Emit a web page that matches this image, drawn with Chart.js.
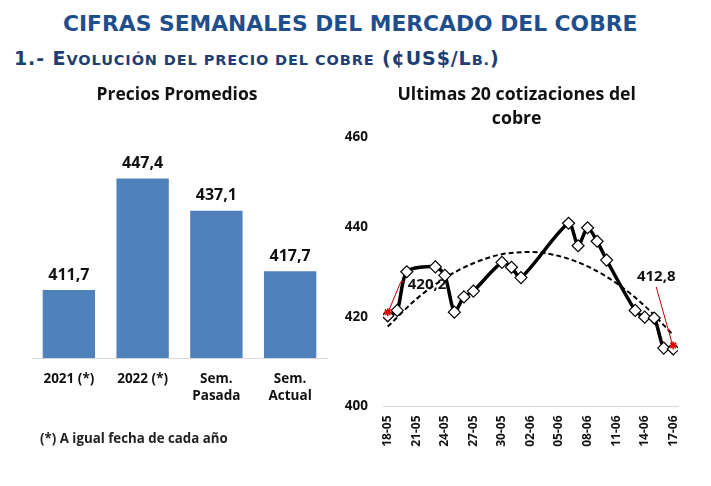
<!DOCTYPE html>
<html>
<head>
<meta charset="utf-8">
<script src="https://cdn.jsdelivr.net/npm/chart.js@4/dist/chart.umd.min.js"></script>
<style>
  body { margin: 0; width: 711px; height: 486px; background: #fff; position: relative; overflow: hidden; }
  #titulo { position: absolute; left: 63px; top: 11px; font-family: "DejaVu Sans"; font-weight: bold; font-size: 21.8px; color: #1f4e8c; white-space: nowrap; }
  #subtitulo { position: absolute; left: 14px; top: 47px; font-family: "DejaVu Sans"; font-weight: bold; font-size: 19px; letter-spacing: 0.9px; color: #1f3f73; white-space: nowrap; }
  #subtitulo .sc { font-size: 14.5px; }
  #nota { position: absolute; left: 40px; top: 429px; font-family: "Open Sans"; font-weight: bold; font-size: 13.3px; color: #222; }
  canvas { position: absolute; }
</style>
</head>
<body>
<div id="titulo">CIFRAS SEMANALES DEL MERCADO DEL COBRE</div>
<div id="subtitulo">1.- E<span class="sc">VOLUCIÓN DEL PRECIO DEL COBRE</span> (¢US$/L<span class="sc">B.</span>)</div>
<canvas id="chart1" width="340" height="400" style="left:0;top:80px"></canvas>
<canvas id="chart2" width="381" height="400" style="left:330px;top:80px"></canvas>
<div id="nota">(*) A igual fecha de cada año</div>
<script>
//------------------------------------------- Data -------------------------------------------//
const categorias = [['2021 (*)'], ['2022 (*)'], ['Sem.', 'Pasada'], ['Sem.', 'Actual']];
const promedios = [411.7, 447.4, 437.1, 417.7];

// cotizaciones diarias (dd-mm, 2022)
const fechas = ['18-05', '19-05', '20-05', '23-05', '24-05', '25-05', '26-05', '27-05', '30-05', '31-05',
                '01-06', '06-06', '07-06', '08-06', '09-06', '10-06', '13-06', '14-06', '15-06', '16-06', '17-06'];
const precios = [420.2, 421.4, 430.0, 431.1, 429.2, 421.0, 424.4, 425.7, 432.1, 431.0,
                 428.7, 440.8, 435.8, 439.8, 436.8, 432.6, 421.4, 419.9, 419.7, 413.0, 412.8];

const etiquetasX = ['18-05', '21-05', '24-05', '27-05', '30-05', '02-06', '05-06', '08-06', '11-06', '14-06', '17-06'];
const tendencia = [417.8, 423.9, 428.6, 431.9, 433.9, 434.4, 433.5, 431.2, 427.5, 422.4, 415.9];

const yTicks = [400, 420, 440, 460];

//------------------------------------------- Helpers -------------------------------------------//
const FONT = '"Open Sans"';
const base = Date.UTC(2022, 4, 18);
function dia(s) {
    const p = s.split('-');
    return Math.round((Date.UTC(2022, +p[1] - 1, +p[0]) - base) / 86400000);
}
function coma(v) { return v.toFixed(1).replace('.', ','); }

// eje vacio, solo ocupa espacio para centrar el titulo
function ejeVacio(pos, ancho) {
    return {
        position: pos,
        display: true,
        grid: { display: false, drawTicks: false },
        border: { display: false },
        ticks: { display: false },
        afterFit: (s) => { s.width = ancho; }
    };
}

//------------------------------------------- Chart 1 -------------------------------------------//
const etiquetasBarras = {
    id: 'etiquetasBarras',
    afterDatasetsDraw(chart) {
        const ctx = chart.ctx;
        ctx.save();
        ctx.font = 'bold 16px ' + FONT;
        ctx.fillStyle = '#111';
        ctx.textAlign = 'center';
        ctx.textBaseline = 'middle';
        chart.getDatasetMeta(0).data.forEach((bar, i) => {
            ctx.fillText(coma(promedios[i]), bar.x, bar.y - 15);
        });
        ctx.restore();
    }
};

new Chart(document.getElementById('chart1'), {
    type: 'bar',
    data: {
        labels: categorias,
        datasets: [{
            data: promedios,
            backgroundColor: '#4f81bd',
            barPercentage: 0.71,
            categoryPercentage: 1
        }]
    },
    options: {
        responsive: false,
        animation: false,
        layout: { padding: { left: 27, right: 13, top: 0, bottom: 62 } },
        plugins: {
            legend: { display: false },
            tooltip: { enabled: false },
            title: {
                display: true,
                text: 'Precios Promedios',
                color: '#111',
                font: { family: FONT, size: 17.5, weight: 'bold', lineHeight: 1.2 },
                padding: { top: 4.5, bottom: 33.5 }
            }
        },
        scales: {
            x: {
                grid: { display: false, drawTicks: false },
                border: { display: true, color: '#d9d9d9', width: 1 },
                ticks: { color: '#111', padding: 12, font: { family: FONT, size: 13.5, weight: 'bold', lineHeight: 1.3 } },
                afterFit: (s) => { s.height = 60; }
            },
            y: Object.assign(ejeVacio('left', 5), { min: 390, max: 460 })
        }
    },
    plugins: [etiquetasBarras]
});

//------------------------------------------- Chart 2 -------------------------------------------//
const extremos = [0, precios.length - 1];

const anotaciones = {
    id: 'anotaciones',
    beforeDatasetsDraw(chart) {
        const ctx = chart.ctx;
        const x = chart.scales.x, y = chart.scales.y;
        ctx.save();
        ctx.font = 'bold 15px ' + FONT;
        ctx.fillStyle = '#111';
        ctx.textBaseline = 'middle';
        let px = x.getPixelForValue(dia(fechas[0])), py = y.getPixelForValue(precios[0]);
        ctx.textAlign = 'left';
        ctx.fillText(coma(precios[0]), px + 20, py - 31);
        const n = precios.length - 1;
        px = x.getPixelForValue(dia(fechas[n])); py = y.getPixelForValue(precios[n]);
        ctx.textAlign = 'center';
        ctx.fillText(coma(precios[n]), px - 17, py - 72);
        ctx.restore();
    },
    afterDatasetsDraw(chart) {
        const ctx = chart.ctx;
        const x = chart.scales.x, y = chart.scales.y;
        ctx.save();
        ctx.strokeStyle = '#c00000';
        ctx.lineWidth = 1;
        let px = x.getPixelForValue(dia(fechas[0])), py = y.getPixelForValue(precios[0]);
        ctx.beginPath();
        ctx.moveTo(px + 1, py - 5);
        ctx.lineTo(px + 13, py - 34);
        ctx.lineTo(px + 17, py - 34);
        ctx.stroke();
        const n = precios.length - 1;
        px = x.getPixelForValue(dia(fechas[n])); py = y.getPixelForValue(precios[n]);
        ctx.beginPath();
        ctx.moveTo(px - 17, py - 62);
        ctx.lineTo(px - 1, py - 5);
        ctx.stroke();
        ctx.restore();
    }
};

new Chart(document.getElementById('chart2'), {
    type: 'line',
    data: {
        datasets: [{
            data: extremos.map(i => ({ x: dia(fechas[i]), y: precios[i] + 0.8 })),
            showLine: false,
            pointStyle: 'star',
            pointRadius: 4,
            pointBorderColor: '#e00000',
            pointBorderWidth: 1.5
        }, {
            data: fechas.map((f, i) => ({ x: dia(f), y: precios[i] })),
            borderColor: '#000',
            borderWidth: 3.5,
            tension: 0.25,
            pointStyle: 'rectRot',
            pointRadius: 6,
            pointBackgroundColor: '#fff',
            pointBorderColor: '#000',
            pointBorderWidth: 1.2
        }, {
            data: etiquetasX.map((f, i) => ({ x: dia(f), y: tendencia[i] })),
            borderColor: '#000',
            borderWidth: 2,
            borderDash: [5, 3],
            cubicInterpolationMode: 'monotone',
            pointRadius: 0
        }]
    },
    options: {
        responsive: false,
        animation: false,
        layout: { padding: { left: 0, right: 7.6, top: 0, bottom: 23.5 } },
        plugins: {
            legend: { display: false },
            tooltip: { enabled: false },
            title: {
                display: true,
                text: ['Ultimas 20 cotizaciones del', 'cobre'],
                color: '#111',
                font: { family: FONT, size: 17.7, weight: 'bold', lineHeight: 1.38 },
                padding: { top: 2.8, bottom: 5.4 }
            }
        },
        scales: {
            x: {
                type: 'linear',
                min: -0.5,
                max: 30.5,
                grid: { display: false, drawTicks: false },
                border: { display: true, color: '#d9d9d9', width: 1 },
                afterBuildTicks: (s) => { s.ticks = etiquetasX.map(f => ({ value: dia(f) })); },
                ticks: {
                    autoSkip: false,
                    minRotation: 90,
                    maxRotation: 90,
                    padding: 9,
                    color: '#111',
                    font: { family: FONT, size: 12, weight: 'bold' },
                    callback: (v) => etiquetasX.find(f => dia(f) === v) || ''
                },
                afterFit: (s) => { s.height = 50; }
            },
            y: {
                min: 400,
                max: 460,
                grid: { display: false, drawTicks: false },
                border: { display: false },
                afterBuildTicks: (s) => { s.ticks = yTicks.map(v => ({ value: v })); },
                ticks: { padding: 15, color: '#111', font: { family: FONT, size: 13.5, weight: 'bold' } },
                afterFit: (s) => { s.width = 53; }
            },
            y2: ejeVacio('right', 25.4)
        }
    },
    plugins: [anotaciones]
});
</script>
</body>
</html>
